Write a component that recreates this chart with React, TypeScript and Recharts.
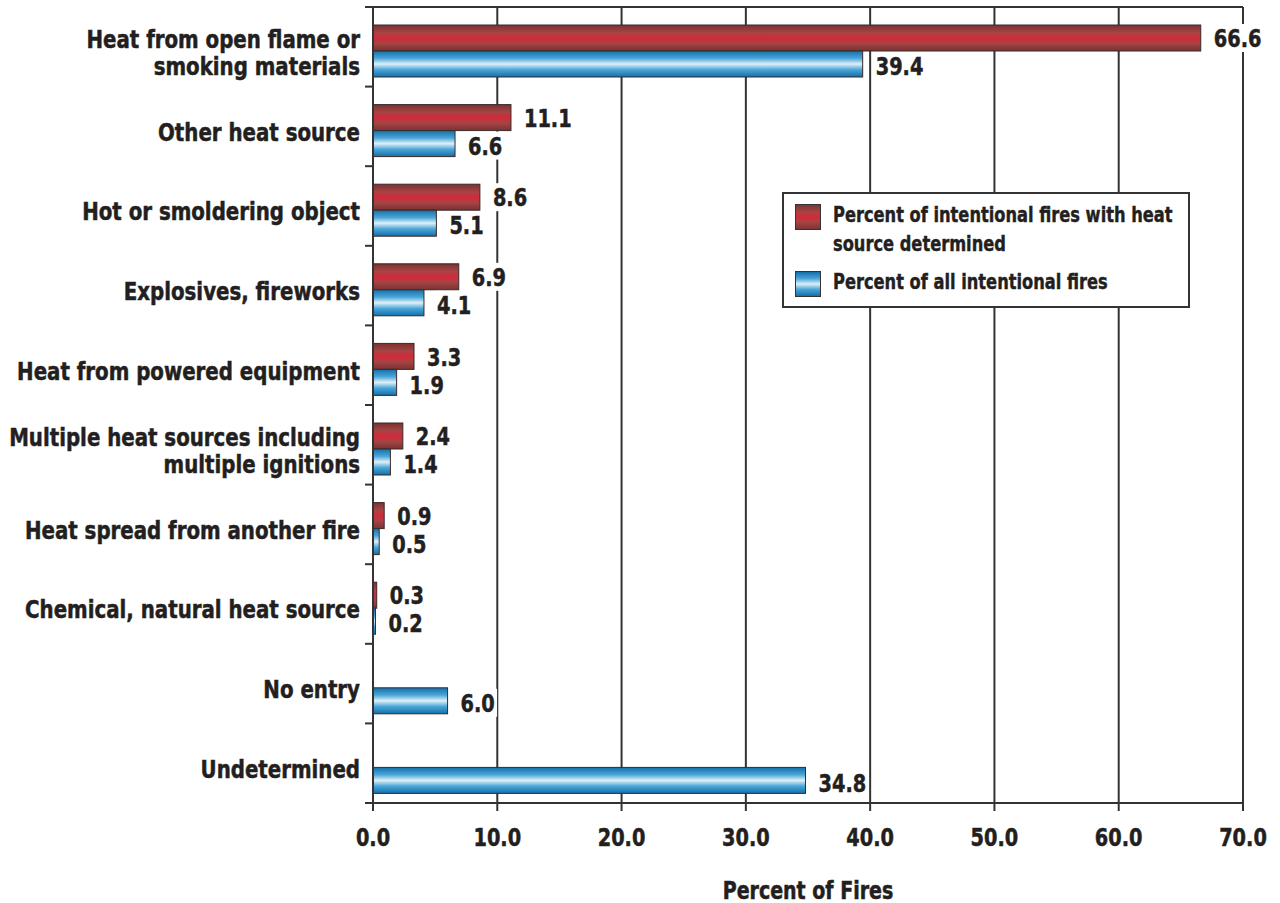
import React from 'react';
import { BarChart, Bar, XAxis, YAxis, CartesianGrid, Legend, LabelList, Label } from 'recharts';

const categories = [
  'Heat from open flame or\nsmoking materials',
  'Other heat source',
  'Hot or smoldering object',
  'Explosives, fireworks',
  'Heat from powered equipment',
  'Multiple heat sources including\nmultiple ignitions',
  'Heat spread from another fire',
  'Chemical, natural heat source',
  'No entry',
  'Undetermined',
];
const determinedValues: (number | null)[] = [66.6, 11.1, 8.6, 6.9, 3.3, 2.4, 0.9, 0.3, null, null];
const allValues: (number | null)[] = [39.4, 6.6, 5.1, 4.1, 1.9, 1.4, 0.5, 0.2, 6.0, 34.8];
const xTicks = [0, 10, 20, 30, 40, 50, 60, 70];
const seriesKeys = ['determined', 'all'];
const seriesNames = ['Percent of intentional fires with heat\nsource determined', 'Percent of all intentional fires'];

const data = categories.map((name, i) => ({ name, determined: determinedValues[i], all: allValues[i] }));

const CHART_W = 1280;
const CHART_H = 903;
const MARGIN = { top: 7, right: 37, bottom: 0, left: 0 };
const Y_AXIS_W = 373;
const X_AXIS_H = 100;
const PLOT_W = CHART_W - MARGIN.right - MARGIN.left - Y_AXIS_W;
const PLOT_H = CHART_H - MARGIN.top - MARGIN.bottom - X_AXIS_H;
const BAND_HALF = PLOT_H / categories.length / 2;

const FONT = "'DejaVu Sans Condensed', 'DejaVu Sans', sans-serif";
const INK = '#231f20';
const SHIFT = 4;
const SQ = 0.86;
const THICK = 0.5;

const BarShape = (props: any) => {
  const { x, y, width, height, gradId } = props;
  if (width == null || width <= 0) return null;
  return (
    <rect x={x} y={y + SHIFT} width={width} height={height} fill={`url(#${gradId})`} stroke="#3a2a2a" strokeWidth={1} />
  );
};

const makeValueLabel = (dyExtra: number) => (props: any) => {
  const { x, y, width, height, value } = props;
  if (value == null) return null;
  const txt = Number(value).toFixed(1);
  const lx = x + width + 13;
  const cy = y + SHIFT + height / 2 + dyExtra;
  const w = txt.length * 11.5 + 4;
  return (
    <g>
      <rect x={lx - 2} y={cy - 14} width={w} height={28} fill="#fff" />
      <text
        transform={`translate(${lx},${cy}) scale(${SQ},1)`}
        x={0}
        y={0}
        dominantBaseline="central"
        fontFamily={FONT}
        fontWeight={700}
        fontSize={25}
        fill={INK}
        stroke={INK}
        strokeWidth={THICK}
      >
        {txt}
      </text>
    </g>
  );
};

const XTick = (props: any) => {
  const { x, y, payload } = props;
  return (
    <text
      transform={`translate(${x},${y}) scale(${SQ},1)`}
      x={0}
      y={0}
      textAnchor="middle"
      dominantBaseline="central"
      fontFamily={FONT}
      fontWeight={700}
      fontSize={25}
      fill={INK}
      stroke={INK}
      strokeWidth={THICK}
    >
      {Number(payload.value).toFixed(1)}
    </text>
  );
};

const YTick = (props: any) => {
  const { x, y, payload, index } = props;
  const lines = String(payload.value).split('\n');
  const lh = 27;
  const cy = y + SHIFT + 2;
  const startY = cy - ((lines.length - 1) * lh) / 2;
  const axisX = x + 13;
  return (
    <g>
      {index === 0 && (
        <>
          <line x1={axisX - 8} x2={axisX} y1={y - BAND_HALF} y2={y - BAND_HALF} stroke="#333" strokeWidth={2} />
          <line x1={axisX} x2={axisX + PLOT_W} y1={y - BAND_HALF} y2={y - BAND_HALF} stroke="#333" strokeWidth={2} />
        </>
      )}
      <line x1={axisX - 8} x2={axisX} y1={y + BAND_HALF} y2={y + BAND_HALF} stroke="#333" strokeWidth={2} />
      <g transform={`translate(${x},${startY}) scale(0.88,1)`}>
        <text x={0} y={0} textAnchor="end" fontFamily={FONT} fontWeight={700} fontSize={25} fill={INK} stroke={INK} strokeWidth={THICK}>
          {lines.map((l, i) => (
            <tspan key={i} x={0} y={i * lh} dominantBaseline="central">
              {l}
            </tspan>
          ))}
        </text>
      </g>
    </g>
  );
};

const LegendContent = (props: any) => {
  const { payload } = props;
  const bgs: Record<string, string> = {
    determined: 'linear-gradient(to bottom, #7e3434, #a84444 30%, #d4283a 50%, #a84444 70%, #7e3434)',
    all: 'linear-gradient(to bottom, #136fa8, #4aa6d8 28%, #dff0f9 50%, #4aa6d8 72%, #136fa8)',
  };
  const items = seriesKeys.map((k) => (payload || []).find((p: any) => p.dataKey === k)).filter(Boolean);
  return (
    <div
      style={{
        border: '2px solid #333',
        background: '#fff',
        width: 404,
        height: 112,
        boxSizing: 'content-box',
        fontFamily: FONT,
        fontWeight: 700,
        fontSize: 21,
        color: INK,
        position: 'relative',
        WebkitTextStroke: '0.4px #231f20',
      }}
    >
      {items.map((p: any, i: number) => (
        <div key={i} style={{ position: 'absolute', left: 11, top: i === 0 ? 9 : 76, display: 'flex', alignItems: 'flex-start' }}>
          <div style={{ width: 24, height: 24, border: '1.5px solid #333', background: bgs[p.dataKey], flex: 'none', marginTop: 1 }} />
          <div
            style={{
              marginLeft: 12,
              lineHeight: '29px',
              marginTop: -2,
              whiteSpace: 'pre',
              transform: 'scaleX(0.86)',
              transformOrigin: 'left top',
            }}
          >
            {p.value}
          </div>
        </div>
      ))}
    </div>
  );
};

export default function App() {
  return (
    <div style={{ position: 'absolute', left: 0, top: 0, width: CHART_W, height: CHART_H, background: '#fff' }}>
      <BarChart
        width={CHART_W}
        height={CHART_H}
        data={data}
        layout="vertical"
        margin={MARGIN}
        barGap={0}
        barSize={26}
      >
        <defs>
          <linearGradient id="redGrad" x1="0" y1="0" x2="0" y2="1">
            <stop offset="0%" stopColor="#7a3232" />
            <stop offset="30%" stopColor="#a84444" />
            <stop offset="50%" stopColor="#d4283a" />
            <stop offset="70%" stopColor="#a84444" />
            <stop offset="100%" stopColor="#7a3232" />
          </linearGradient>
          <linearGradient id="blueGrad" x1="0" y1="0" x2="0" y2="1">
            <stop offset="0%" stopColor="#136fa8" />
            <stop offset="28%" stopColor="#4aa6d8" />
            <stop offset="50%" stopColor="#dff0f9" />
            <stop offset="72%" stopColor="#4aa6d8" />
            <stop offset="100%" stopColor="#136fa8" />
          </linearGradient>
        </defs>
        <CartesianGrid vertical horizontal={false} stroke="#333" strokeWidth={2} />
        <XAxis
          type="number"
          domain={[0, 70]}
          ticks={xTicks}
          axisLine={{ stroke: '#333', strokeWidth: 2 }}
          tickLine={{ stroke: '#333', strokeWidth: 2 }}
          tickSize={8}
          tickMargin={26}
          tick={<XTick />}
          height={X_AXIS_H}
          allowDataOverflow
        >
          <Label
            value="Percent of Fires"
            position="insideBottom"
            offset={4}
            style={{ fontFamily: FONT, fontWeight: 700, fontSize: 24, fill: INK, stroke: INK, strokeWidth: THICK, transform: 'scaleX(0.88)', transformBox: 'fill-box', transformOrigin: 'center' }}
          />
        </XAxis>
        <YAxis
          type="category"
          dataKey="name"
          width={Y_AXIS_W}
          axisLine={{ stroke: '#333', strokeWidth: 2 }}
          tickLine={false}
          tickSize={8}
          tickMargin={5}
          tick={<YTick />}
          interval={0}
        />
        <Legend
          layout="vertical"
          align="center"
          verticalAlign="middle"
          content={<LegendContent />}
          wrapperStyle={{ left: 782, top: 192, width: 408, height: 116 }}
        />
        <Bar
          dataKey="determined"
          name={seriesNames[0]}
          fill="#b03038"
          isAnimationActive={false}
          shape={<BarShape gradId="redGrad" />}
        >
          <LabelList dataKey="determined" content={makeValueLabel(0)} />
        </Bar>
        <Bar
          dataKey="all"
          name={seriesNames[1]}
          fill="#3a9fd5"
          isAnimationActive={false}
          shape={<BarShape gradId="blueGrad" />}
        >
          <LabelList dataKey="all" content={makeValueLabel(2)} />
        </Bar>
      </BarChart>
    </div>
  );
}
